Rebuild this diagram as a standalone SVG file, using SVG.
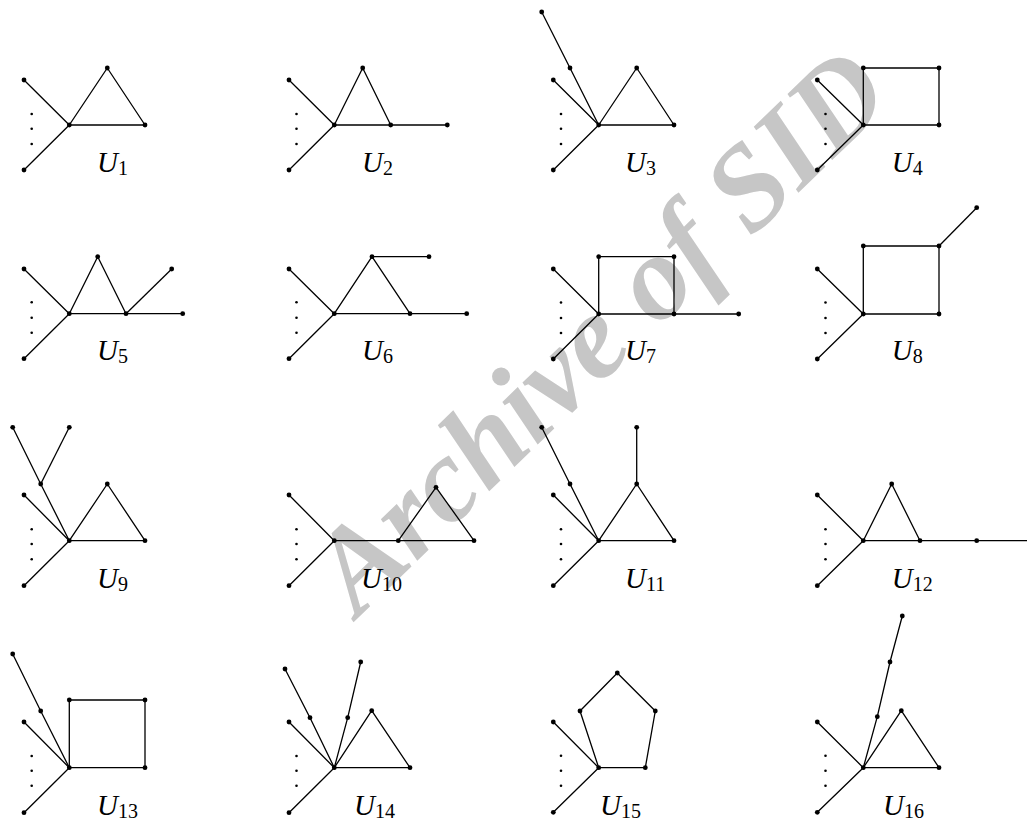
<svg xmlns="http://www.w3.org/2000/svg" width="1027" height="820" viewBox="0 0 1027 820">
<style>
.e{stroke:#000;stroke-width:1.3;fill:none;stroke-linejoin:round}
.n{fill:#000}
.d{fill:#000}
.lbl{font-family:"Liberation Serif",serif;font-style:italic;font-size:29px;fill:#000}
.sub{font-style:normal;font-size:20px}
.wm{font-family:"Liberation Serif",serif;font-style:italic;font-weight:bold;font-size:120px;fill:#c6c6c6}
</style>
<defs>
<circle id="v" r="2.4"/>
<circle id="dt" r="1.3"/>
</defs>
<rect width="1027" height="820" fill="#fff"/>
<text class="wm" transform="translate(358,618) rotate(-44)">Archive of SID</text>

<g id="U1">
<g class="e"><polyline points="24,80 69.3,125 24,170"/><polygon points="69.3,125 107.3,68 145,125"/></g>
<g class="n"><use href="#v" x="24" y="80"/><use href="#v" x="24" y="170"/><use href="#v" x="69.3" y="125"/><use href="#v" x="107.3" y="68"/><use href="#v" x="145" y="125"/></g>
<g class="d"><use href="#dt" x="31.7" y="114"/><use href="#dt" x="31.7" y="128.7"/><use href="#dt" x="31.7" y="144"/></g>
<text class="lbl" x="97" y="172">U<tspan class="sub" dy="3">1</tspan></text>
</g>

<g id="U2">
<g class="e"><polyline points="289,80 334.3,125 289,170"/><polygon points="334.3,125 362.7,68 390.7,125"/><line x1="390.7" y1="125" x2="447.3" y2="125"/></g>
<g class="n"><use href="#v" x="289" y="80"/><use href="#v" x="289" y="170"/><use href="#v" x="334.3" y="125"/><use href="#v" x="362.7" y="68"/><use href="#v" x="390.7" y="125"/><use href="#v" x="447.3" y="125"/></g>
<g class="d"><use href="#dt" x="296.5" y="114"/><use href="#dt" x="296.5" y="128.7"/><use href="#dt" x="296.5" y="144"/></g>
<text class="lbl" x="362" y="172">U<tspan class="sub" dy="3">2</tspan></text>
</g>

<g id="U3">
<g class="e"><polyline points="553.3,80 598.7,125 553.3,170"/><polyline points="598.7,125 570,68 541.7,12"/><polygon points="598.7,125 636.7,68 674,125"/></g>
<g class="n"><use href="#v" x="553.3" y="80"/><use href="#v" x="553.3" y="170"/><use href="#v" x="598.7" y="125"/><use href="#v" x="570" y="68"/><use href="#v" x="541.7" y="12"/><use href="#v" x="636.7" y="68"/><use href="#v" x="674" y="125"/></g>
<g class="d"><use href="#dt" x="561" y="114"/><use href="#dt" x="561" y="128.7"/><use href="#dt" x="561" y="144"/></g>
<text class="lbl" x="625" y="172">U<tspan class="sub" dy="3">3</tspan></text>
</g>

<g id="U4">
<g class="e"><polyline points="817.3,80 863.3,125 817.3,170"/><polygon points="863.3,125 863.3,68 939,68 939,125"/></g>
<g class="n"><use href="#v" x="817.3" y="80"/><use href="#v" x="817.3" y="170"/><use href="#v" x="863.3" y="125"/><use href="#v" x="863.3" y="68"/><use href="#v" x="939" y="68"/><use href="#v" x="939" y="125"/></g>
<g class="d"><use href="#dt" x="825.5" y="114"/><use href="#dt" x="825.5" y="128.7"/><use href="#dt" x="825.5" y="144"/></g>
<text class="lbl" x="891.7" y="172">U<tspan class="sub" dy="3">4</tspan></text>
</g>

<g id="U5">
<g class="e"><polyline points="24,269 69.3,313.7 24,358.7"/><polygon points="69.3,313.7 97.7,256.7 126,313.7"/><line x1="126" y1="313.7" x2="171.7" y2="269"/><line x1="126" y1="313.7" x2="182.7" y2="313.7"/></g>
<g class="n"><use href="#v" x="24" y="269"/><use href="#v" x="24" y="358.7"/><use href="#v" x="69.3" y="313.7"/><use href="#v" x="97.7" y="256.7"/><use href="#v" x="126" y="313.7"/><use href="#v" x="171.7" y="269"/><use href="#v" x="182.7" y="313.7"/></g>
<g class="d"><use href="#dt" x="31.7" y="302.3"/><use href="#dt" x="31.7" y="317.7"/><use href="#dt" x="31.7" y="332.7"/></g>
<text class="lbl" x="97" y="360">U<tspan class="sub" dy="3">5</tspan></text>
</g>

<g id="U6">
<g class="e"><polyline points="289,269 334.3,313.7 289,358.7"/><polygon points="334.3,313.7 372,256.7 410,313.7"/><line x1="372" y1="256.7" x2="429" y2="256.7"/><line x1="410" y1="313.7" x2="466.7" y2="313.7"/></g>
<g class="n"><use href="#v" x="289" y="269"/><use href="#v" x="289" y="358.7"/><use href="#v" x="334.3" y="313.7"/><use href="#v" x="372" y="256.7"/><use href="#v" x="429" y="256.7"/><use href="#v" x="410" y="313.7"/><use href="#v" x="466.7" y="313.7"/></g>
<g class="d"><use href="#dt" x="296.5" y="302.3"/><use href="#dt" x="296.5" y="317.7"/><use href="#dt" x="296.5" y="332.7"/></g>
<text class="lbl" x="362" y="360">U<tspan class="sub" dy="3">6</tspan></text>
</g>

<g id="U7">
<g class="e"><polyline points="553.3,269 598.7,314 553.3,359"/><polygon points="598.7,314 598.7,256.7 674,256.7 674,314"/><line x1="674" y1="314" x2="738.7" y2="314"/></g>
<g class="n"><use href="#v" x="553.3" y="269"/><use href="#v" x="553.3" y="359"/><use href="#v" x="598.7" y="314"/><use href="#v" x="598.7" y="256.7"/><use href="#v" x="674" y="256.7"/><use href="#v" x="674" y="314"/><use href="#v" x="738.7" y="314"/></g>
<g class="d"><use href="#dt" x="561" y="302.5"/><use href="#dt" x="561" y="318"/><use href="#dt" x="561" y="333"/></g>
<text class="lbl" x="625" y="360">U<tspan class="sub" dy="3">7</tspan></text>
</g>

<g id="U8">
<g class="e"><polyline points="817.3,269 863.3,314 817.3,359"/><polygon points="863.3,314 863.3,246 939,246 939,314"/><line x1="939" y1="246" x2="976.7" y2="207.7"/></g>
<g class="n"><use href="#v" x="817.3" y="269"/><use href="#v" x="817.3" y="359"/><use href="#v" x="863.3" y="314"/><use href="#v" x="863.3" y="246"/><use href="#v" x="939" y="246"/><use href="#v" x="939" y="314"/><use href="#v" x="976.7" y="207.7"/></g>
<g class="d"><use href="#dt" x="825.5" y="302.5"/><use href="#dt" x="825.5" y="318"/><use href="#dt" x="825.5" y="333"/></g>
<text class="lbl" x="891.7" y="360">U<tspan class="sub" dy="3">8</tspan></text>
</g>

<g id="U9">
<g class="e"><polyline points="24,495 69.3,540.7 24,585.7"/><polyline points="69.3,540.7 40.7,484 12.7,427.3"/><line x1="40.7" y1="484" x2="69.3" y2="427.3"/><polygon points="69.3,540.7 107.3,484 145,540.7"/></g>
<g class="n"><use href="#v" x="24" y="495"/><use href="#v" x="24" y="585.7"/><use href="#v" x="69.3" y="540.7"/><use href="#v" x="40.7" y="484"/><use href="#v" x="12.7" y="427.3"/><use href="#v" x="69.3" y="427.3"/><use href="#v" x="107.3" y="484"/><use href="#v" x="145" y="540.7"/></g>
<g class="d"><use href="#dt" x="31.7" y="529.3"/><use href="#dt" x="31.7" y="544"/><use href="#dt" x="31.7" y="559.3"/></g>
<text class="lbl" x="97" y="588">U<tspan class="sub" dy="3">9</tspan></text>
</g>

<g id="U10">
<g class="e"><polyline points="289,495 334.3,540.7 289,585.7"/><line x1="334.3" y1="540.7" x2="398.3" y2="540.7"/><polygon points="398.3,540.7 436,487.3 474,540.7"/></g>
<g class="n"><use href="#v" x="289" y="495"/><use href="#v" x="289" y="585.7"/><use href="#v" x="334.3" y="540.7"/><use href="#v" x="398.3" y="540.7"/><use href="#v" x="436" y="487.3"/><use href="#v" x="474" y="540.7"/></g>
<g class="d"><use href="#dt" x="296.5" y="529.3"/><use href="#dt" x="296.5" y="544"/><use href="#dt" x="296.5" y="559.3"/></g>
<text class="lbl" x="361" y="588">U<tspan class="sub" dy="3">10</tspan></text>
</g>

<g id="U11">
<g class="e"><polyline points="553.3,495 598.7,540.7 553.3,585.7"/><polyline points="598.7,540.7 570,484 541.7,427.3"/><polygon points="598.7,540.7 636.7,484 674,540.7"/><line x1="636.7" y1="484" x2="636.7" y2="427.3"/></g>
<g class="n"><use href="#v" x="553.3" y="495"/><use href="#v" x="553.3" y="585.7"/><use href="#v" x="598.7" y="540.7"/><use href="#v" x="570" y="484"/><use href="#v" x="541.7" y="427.3"/><use href="#v" x="636.7" y="484"/><use href="#v" x="636.7" y="427.3"/><use href="#v" x="674" y="540.7"/></g>
<g class="d"><use href="#dt" x="561" y="529.3"/><use href="#dt" x="561" y="544"/><use href="#dt" x="561" y="559.3"/></g>
<text class="lbl" x="625" y="588">U<tspan class="sub" dy="3">11</tspan></text>
</g>

<g id="U12">
<g class="e"><polyline points="817.3,495 863.3,540.7 817.3,585.7"/><polygon points="863.3,540.7 891.7,484 920,540.7"/><line x1="920" y1="540.7" x2="1027" y2="540.7"/></g>
<g class="n"><use href="#v" x="817.3" y="495"/><use href="#v" x="817.3" y="585.7"/><use href="#v" x="863.3" y="540.7"/><use href="#v" x="891.7" y="484"/><use href="#v" x="920" y="540.7"/><use href="#v" x="976.7" y="540.7"/></g>
<g class="d"><use href="#dt" x="825.5" y="529.3"/><use href="#dt" x="825.5" y="544"/><use href="#dt" x="825.5" y="559.3"/></g>
<text class="lbl" x="891.7" y="588">U<tspan class="sub" dy="3">12</tspan></text>
</g>

<g id="U13">
<g class="e"><polyline points="24,722 69.3,767.7 24,812.7"/><polyline points="69.3,767.7 40.7,711 12.7,654"/><polygon points="69.3,767.7 69.3,700 145,700 145,767.7"/></g>
<g class="n"><use href="#v" x="24" y="722"/><use href="#v" x="24" y="812.7"/><use href="#v" x="69.3" y="767.7"/><use href="#v" x="40.7" y="711"/><use href="#v" x="12.7" y="654"/><use href="#v" x="69.3" y="700"/><use href="#v" x="145" y="700"/><use href="#v" x="145" y="767.7"/></g>
<g class="d"><use href="#dt" x="31.7" y="756"/><use href="#dt" x="31.7" y="770.7"/><use href="#dt" x="31.7" y="785.7"/></g>
<text class="lbl" x="97" y="815">U<tspan class="sub" dy="3">13</tspan></text>
</g>

<g id="U14">
<g class="e"><polyline points="289,722 334.3,767.7 289,812.7"/><polyline points="334.3,767.7 310,717.7 285,669"/><polyline points="334.3,767.7 347.7,717.7 360.7,662"/><polygon points="334.3,767.7 371.7,710.7 410,767.7"/></g>
<g class="n"><use href="#v" x="289" y="722"/><use href="#v" x="289" y="812.7"/><use href="#v" x="334.3" y="767.7"/><use href="#v" x="310" y="717.7"/><use href="#v" x="285" y="669"/><use href="#v" x="347.7" y="717.7"/><use href="#v" x="360.7" y="662"/><use href="#v" x="371.7" y="710.7"/><use href="#v" x="410" y="767.7"/></g>
<g class="d"><use href="#dt" x="296.5" y="756"/><use href="#dt" x="296.5" y="770.7"/><use href="#dt" x="296.5" y="785.7"/></g>
<text class="lbl" x="354" y="815">U<tspan class="sub" dy="3">14</tspan></text>
</g>

<g id="U15">
<g class="e"><polyline points="553.3,722 598.7,767.7 553.3,812.3"/><polygon points="598.7,767.7 580,711 617.3,673 655.3,711 645.3,767.7"/></g>
<g class="n"><use href="#v" x="553.3" y="722"/><use href="#v" x="553.3" y="812.3"/><use href="#v" x="598.7" y="767.7"/><use href="#v" x="580" y="711"/><use href="#v" x="617.3" y="673"/><use href="#v" x="655.3" y="711"/><use href="#v" x="645.3" y="767.7"/></g>
<g class="d"><use href="#dt" x="561" y="755.7"/><use href="#dt" x="561" y="770.7"/><use href="#dt" x="561" y="785.7"/></g>
<text class="lbl" x="600" y="815">U<tspan class="sub" dy="3">15</tspan></text>
</g>

<g id="U16">
<g class="e"><polyline points="817.3,722 863.3,767.7 817.3,812.3"/><polyline points="863.3,767.7 877.3,716.7 890,662 902.3,616"/><polygon points="863.3,767.7 901.3,710.7 939,767.7"/></g>
<g class="n"><use href="#v" x="817.3" y="722"/><use href="#v" x="817.3" y="812.3"/><use href="#v" x="863.3" y="767.7"/><use href="#v" x="877.3" y="716.7"/><use href="#v" x="890" y="662"/><use href="#v" x="902.3" y="616"/><use href="#v" x="901.3" y="710.7"/><use href="#v" x="939" y="767.7"/></g>
<g class="d"><use href="#dt" x="825.5" y="755.7"/><use href="#dt" x="825.5" y="770.7"/><use href="#dt" x="825.5" y="785.7"/></g>
<text class="lbl" x="883" y="815">U<tspan class="sub" dy="3">16</tspan></text>
</g>
</svg>
